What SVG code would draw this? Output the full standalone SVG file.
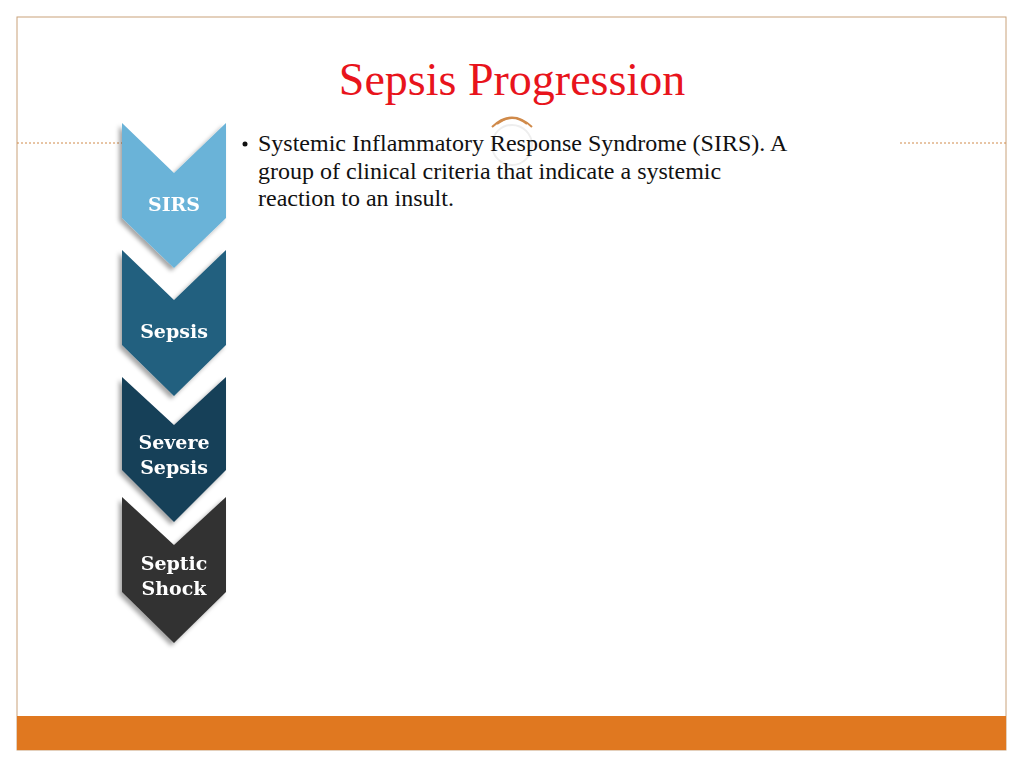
<svg xmlns="http://www.w3.org/2000/svg" width="1024" height="768" viewBox="0 0 1024 768">
<style>
.lbl{font-family:"DejaVu Serif","Liberation Serif",serif;font-weight:bold;font-size:19px;fill:#fff;text-anchor:middle}
.body{font-family:"Liberation Serif",serif;font-size:24px;fill:#111}
</style>
<defs><filter id="sh" x="-20%" y="-20%" width="150%" height="150%"><feDropShadow dx="-3" dy="3" stdDeviation="2" flood-opacity="0.35"/></filter></defs>
<rect width="1024" height="768" fill="#fff"/>
<rect x="17" y="17" width="989" height="733" fill="none" stroke="#c9a27a" stroke-width="1"/>
<rect x="17" y="716" width="989" height="34" fill="#e07820"/>
<g stroke="#d08a4a" stroke-width="1" stroke-dasharray="2,2"><line x1="17" y1="143" x2="122" y2="143"/><line x1="900" y1="143" x2="1006" y2="143"/></g>
<text x="512" y="95" text-anchor="middle" font-family="Liberation Serif,serif" font-size="46" fill="#e8141c">Sepsis Progression</text>
<g fill="none" stroke="#d08a4a" stroke-width="2"><path d="M492 127 Q512 108 532 127"/><path d="M497 124 Q512 112 527 124"/></g>
<circle cx="512" cy="145" r="20" fill="none" stroke="#eee" stroke-width="2"/>
<g id="n1" filter="url(#sh)"><path d="M122 123 L174 173 L226 123 L226 218 L174 268 L122 218 Z" fill="#6bb3d8"/><text class="lbl" x="174" y="211">SIRS</text></g>
<g id="n2" filter="url(#sh)"><path d="M122 250 L174 300 L226 250 L226 345 L174 396 L122 345 Z" fill="#24607f"/><text class="lbl" x="174" y="338">Sepsis</text></g>
<g id="n3" filter="url(#sh)"><path d="M122 377 L174 425 L226 377 L226 470 L174 522 L122 470 Z" fill="#173f58"/><text class="lbl" x="174" y="449">Severe</text><text class="lbl" x="174" y="474">Sepsis</text></g>
<g id="n4" filter="url(#sh)"><path d="M122 497 L174 545 L226 497 L226 592 L174 643 L122 592 Z" fill="#333333"/><text class="lbl" x="174" y="570">Septic</text><text class="lbl" x="174" y="595">Shock</text></g>
<g id="connectors"/>
<g id="text" class="body">
<circle cx="245" cy="144" r="2.5" fill="#111"/>
<text x="258" y="151">Systemic Inflammatory Response Syndrome (SIRS).  A</text>
<text x="258" y="179">group of clinical criteria that indicate a systemic</text>
<text x="258" y="206">reaction to an insult.</text>
</g>
</svg>
